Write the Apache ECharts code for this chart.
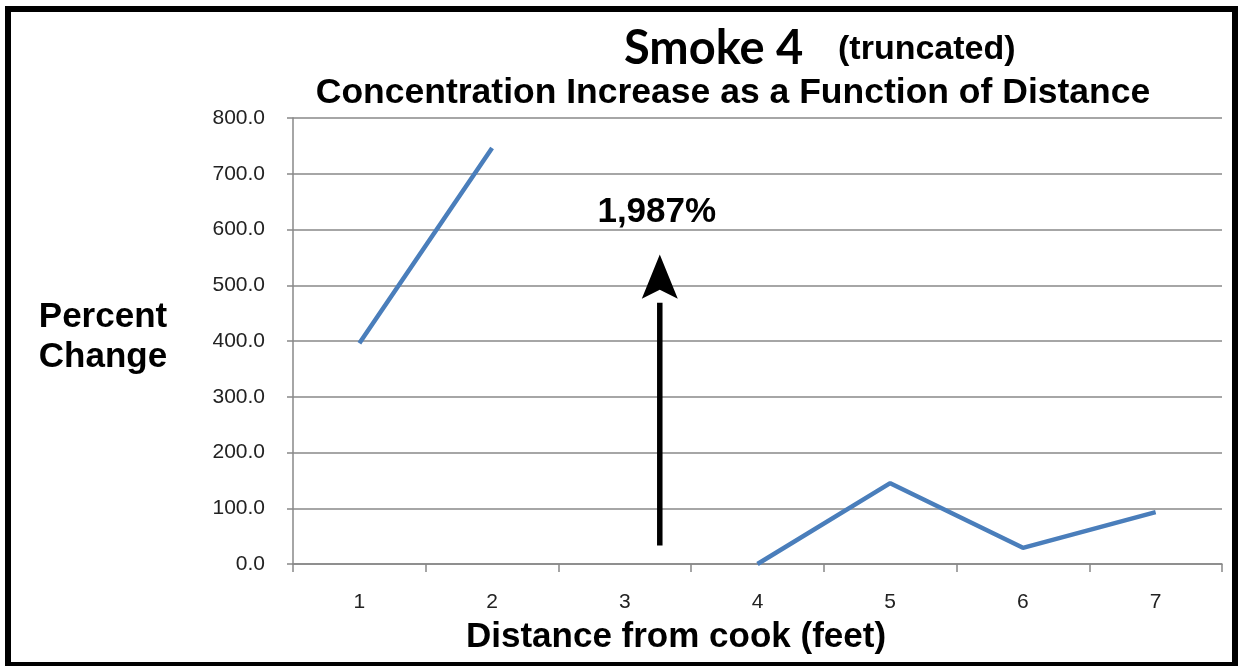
<!DOCTYPE html>
<html><head><meta charset="utf-8">
<script src="https://cdn.jsdelivr.net/npm/echarts@6/dist/echarts.min.js"></script>
<style>html,body{margin:0;padding:0;background:#fff}#c{width:1239px;height:666px}
#frame{position:absolute;left:5px;top:6px;width:1233px;height:660px;box-sizing:border-box;border:6px solid #000;border-bottom-width:4px;pointer-events:none}</style>
</head><body><div id="c"></div><div id="frame"></div>
<script>
const categories = ['1','2','3','4','5','6','7'];
const percentChange = [396, 746, null, 0, 145, 29, 93];
const truncatedLabel = '1,987%';
const yTicks = [0,100,200,300,400,500,600,700,800];

const chart = echarts.init(document.getElementById('c'));
const font = '"Liberation Sans", Arial, sans-serif';
chart.setOption({
  animation: false,
  backgroundColor: '#fff',
  grid: {left: 293, top: 118, right: 17, bottom: 102},
  xAxis: {
    type: 'category', data: categories, boundaryGap: true,
    axisLine: {lineStyle: {color: '#888', width: 1.5}},
    axisTick: {show: true, length: 8, lineStyle: {color: '#888', width: 1.5}},
    axisLabel: {fontFamily: font, fontSize: 21, color: '#222', margin: 28}
  },
  yAxis: {
    type: 'value', min: yTicks[0], max: yTicks[yTicks.length - 1], interval: yTicks[1] - yTicks[0],
    axisLine: {show: true, lineStyle: {color: '#888', width: 1.5}},
    axisTick: {show: true, length: 6, lineStyle: {color: '#888', width: 1.5}},
    axisLabel: {fontFamily: font, fontSize: 21, color: '#222', margin: 28, formatter: v => v.toFixed(1)},
    splitLine: {lineStyle: {color: '#888', width: 1.5}}
  },
  series: [{
    type: 'line', data: percentChange, connectNulls: false, showSymbol: false, symbol: 'none',
    lineStyle: {color: '#4a7ebb', width: 4.5}, clip: true
  }]
});

// annotation for the truncated value
const xPos = chart.convertToPixel({gridIndex: 0}, [2, 0])[0] + 35;
const yBottom = chart.convertToPixel({yAxisIndex: 0}, 33);
const yTip = chart.convertToPixel({yAxisIndex: 0}, 555);
const yHeadBase = chart.convertToPixel({yAxisIndex: 0}, 476);
const yText = chart.convertToPixel({yAxisIndex: 0}, 631);
const bold = (t, x, y, size, fam, align) => ({type: 'text', x: x, y: y,
  style: {text: t, fontFamily: fam || font, fontSize: size, fontWeight: 'bold', fill: '#000', align: align || 'center', verticalAlign: 'middle'}});
chart.setOption({
  graphic: [
    {type: 'line', shape: {x1: xPos, y1: yBottom, x2: xPos, y2: yHeadBase + 4}, style: {stroke: '#000', lineWidth: 5.5}},
    {type: 'polygon', shape: {points: [[xPos, yTip], [xPos - 18, yHeadBase], [xPos, yHeadBase - 9], [xPos + 18, yHeadBase]]}, style: {fill: '#000'}},
    bold(truncatedLabel, xPos - 3, yText, 35),
    bold('Percent', 103, 317, 35),
    bold('Change', 103, 357, 35),
    bold('Smoke 4', 624, 49, 47, 'Lato, "Open Sans", sans-serif', 'left'),
    bold('(truncated)', 838, 50, 34, font, 'left'),
    bold('Concentration Increase as a Function of Distance', 733, 93, 35.5),
    bold('Distance from cook (feet)', 676, 637, 35)
  ]
});
</script>
</body></html>
